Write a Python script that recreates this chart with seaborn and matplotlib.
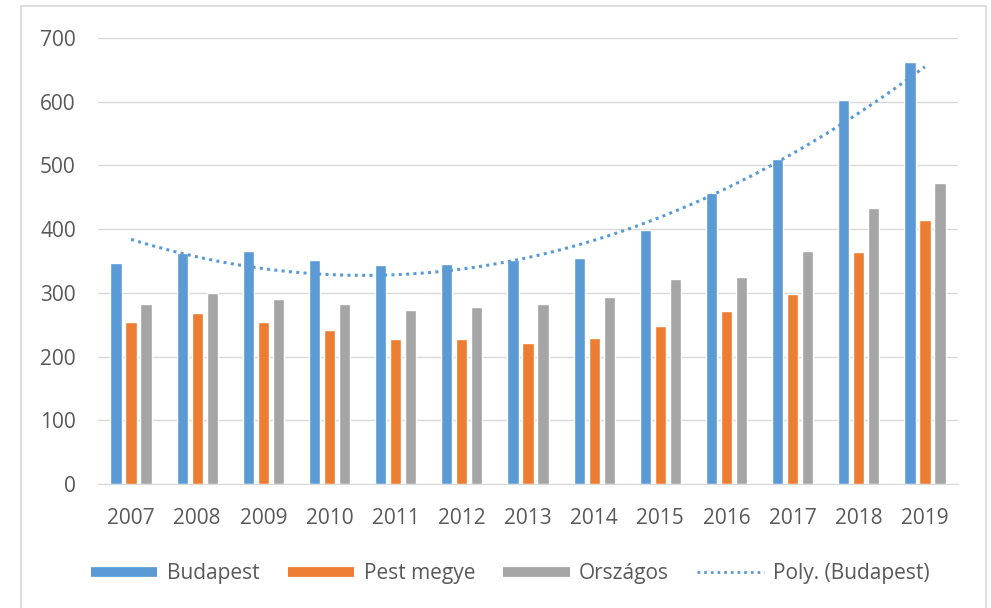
import numpy as np
import pandas as pd
import seaborn as sns
import matplotlib.pyplot as plt
from matplotlib.lines import Line2D
from matplotlib.patches import Rectangle

years = ['2007', '2008', '2009', '2010', '2011', '2012', '2013',
         '2014', '2015', '2016', '2017', '2018', '2019']
budapest = [347, 363, 365, 351, 343, 345, 351, 355, 398, 457, 510, 602, 663]
pest_megye = [254, 269, 254, 242, 227, 227, 221, 229, 248, 271, 299, 364, 415]
orszagos = [283, 300, 290, 282, 273, 278, 283, 294, 321, 325, 366, 433, 473]
series_names = ['Budapest', 'Pest megye', 'Országos']
colors = ['#5B9BD5', '#ED7D31', '#A5A5A5']

df = pd.DataFrame({'year': years * 3,
                   'value': budapest + pest_megye + orszagos,
                   'series': [s for s in series_names for _ in years]})

sns.set_style('white')
plt.rcParams['font.family'] = ['Open Sans', 'DejaVu Sans']

fig = plt.figure(figsize=(9.91, 6.08), dpi=100)
ax = fig.add_axes([0.0989, 0.2039, 0.8678, 0.7336])

sns.barplot(data=df, x='year', y='value', hue='series', palette=colors,
            width=0.68, gap=0.25, ax=ax, legend=False, saturation=1)

# 2nd order polynomial trend, like Excel's "Poly." trendline
xs = np.arange(len(years))
coef = np.polyfit(xs, budapest, 2)
xfine = np.linspace(0, len(years) - 1, 200)
ax.plot(xfine, np.polyval(coef, xfine), color='#5B9BD5', lw=2.2,
        linestyle=(0, (1, 1.4)))

ax.set_xlim(-0.5, len(years) - 0.5)
ax.set_ylim(0, 700)
ax.set_yticks(range(0, 701, 100))
ax.set_xlabel('')
ax.set_ylabel('')
ax.grid(axis='y', color='#D9D9D9', lw=1)
ax.set_axisbelow(True)
for s in ['left', 'right', 'top']:
    ax.spines[s].set_visible(False)
ax.spines['bottom'].set_color('#D9D9D9')
ax.tick_params(axis='both', length=0, labelsize=15, labelcolor='#595959')
ax.tick_params(axis='y', pad=16)
ax.tick_params(axis='x', pad=17)

handles = [Line2D([], [], color=c, lw=7, solid_capstyle='butt') for c in colors]
handles.append(Line2D([], [], color='#5B9BD5', lw=2, linestyle=(0, (1, 1.4))))
labels = series_names + ['Poly. (Budapest)']
leg = fig.legend(handles, labels, loc='center', bbox_to_anchor=(0.515, 0.056),
                 ncol=4, frameon=False, fontsize=15, handlelength=3.2,
                 handletextpad=0.45, columnspacing=1.35)
for t in leg.get_texts():
    t.set_color('#595959')

fig.patches.append(Rectangle((21 / 991, -0.01), 965 / 991, 1 - 6 / 608 + 0.01,
                             transform=fig.transFigure, fill=False,
                             edgecolor='#D9D9D9', lw=1.2))

fig.savefig('out.png', dpi=100)
